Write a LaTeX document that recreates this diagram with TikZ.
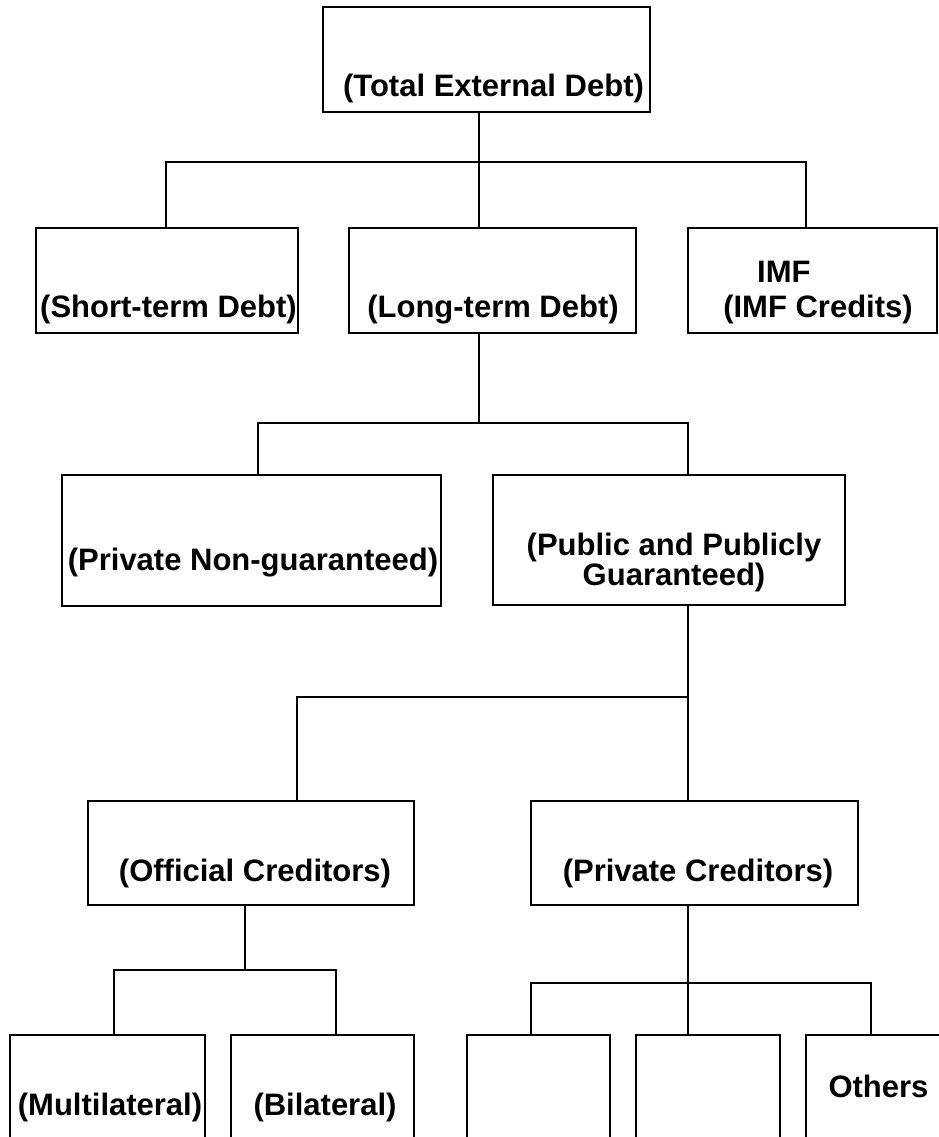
\documentclass[tikz,border=0pt]{standalone}
\usepackage{fontspec}
\setmainfont{Liberation Sans}
\begin{document}
\begin{tikzpicture}[x=1pt,y=-1pt,
  box/.style={draw, line width=1.5pt, rectangle, inner sep=0pt, outer sep=0pt, anchor=north west},
  lbl/.style={font=\fontsize{31}{30}\selectfont\bfseries, inner sep=0pt, anchor=base, align=center},
  wire/.style={line width=1.3pt}]
\useasboundingbox (0,0) rectangle (939,1137);
\fill[white] (0,0) rectangle (939,1137);
\clip (0,0) rectangle (939,1137);
% boxes
\node[box, minimum width=327pt, minimum height=105pt] (top) at (323,7) {};
\node[box, minimum width=262pt, minimum height=105pt] (short) at (36,228) {};
\node[box, minimum width=287pt, minimum height=105pt] (long) at (349,228) {};
\node[box, minimum width=249pt, minimum height=105pt] (imf) at (688,228) {};
\node[box, minimum width=379pt, minimum height=131pt] (pn) at (62,475) {};
\node[box, minimum width=352pt, minimum height=130pt] (pub) at (493,475) {};
\node[box, minimum width=326pt, minimum height=104pt] (off) at (88,801) {};
\node[box, minimum width=327pt, minimum height=104pt] (pcr) at (531,801) {};
\node[box, minimum width=195pt, minimum height=130pt] (mul) at (10,1035) {};
\node[box, minimum width=183pt, minimum height=130pt] (bil) at (231,1035) {};
\node[box, minimum width=143pt, minimum height=130pt] (bx3) at (467,1035) {};
\node[box, minimum width=144pt, minimum height=130pt] (bx4) at (636,1035) {};
\node[box, minimum width=150pt, minimum height=130pt] (oth) at (806,1035) {};
% texts
\node[lbl] (t0) at (493.5,97) {(Total External Debt)};
\node[lbl] (t1) at (168.5,317) {(Short-term Debt)};
\node[lbl] (t2) at (493,317) {(Long-term Debt)};
\node[lbl, anchor=base west] (t3a) at (757,282) {IMF};
\node[lbl] (t3b) at (818,317) {(IMF Credits)};
\node[lbl] (t4) at (253,570) {(Private Non-guaranteed)};
\node[lbl] (t5) at (674,585) {(Public and Publicly\\Guaranteed)};
\node[lbl] (t6) at (255,881) {(Official Creditors)};
\node[lbl] (t7) at (698,881) {(Private Creditors)};
\node[lbl] (t8) at (110,1115) {(Multilateral)};
\node[lbl] (t9) at (325,1115) {(Bilateral)};
\node[lbl] (t10) at (878.5,1097) {Others};
% junction coordinates
\coordinate (a1) at (166,162);
\coordinate (j1) at (479,162);
\coordinate (c1) at (806,162);
\coordinate (a2) at (258,423);
\coordinate (j2) at (479,423);
\coordinate (c2) at (688,423);
\coordinate (a3) at (297,697);
\coordinate (j3) at (688,697);
\coordinate (a4) at (114,970);
\coordinate (j4) at (245,970);
\coordinate (c4) at (336,970);
\coordinate (a5) at (531,983);
\coordinate (j5) at (688,983);
\coordinate (c5) at (871,983);
% connectors
\draw[wire] (j1 |- top.south) -- (j1);
\draw[wire] (a1 |- short.north) -- (a1) -- (c1) -- (c1 |- imf.north);
\draw[wire] (j1) -- (j1 |- long.north);
\draw[wire] (j2 |- long.south) -- (j2);
\draw[wire] (a2 |- pn.north) -- (a2) -- (c2) -- (c2 |- pub.north);
\draw[wire] (j3 |- pub.south) -- (j3);
\draw[wire] (a3 |- off.north) -- (a3) -- (j3) -- (j3 |- pcr.north);
\draw[wire] (j4 |- off.south) -- (j4);
\draw[wire] (a4 |- mul.north) -- (a4) -- (c4) -- (c4 |- bil.north);
\draw[wire] (j5 |- pcr.south) -- (j5);
\draw[wire] (a5 |- bx3.north) -- (a5) -- (c5) -- (c5 |- oth.north);
\draw[wire] (j5) -- (j5 |- bx4.north);
\end{tikzpicture}
\end{document}
